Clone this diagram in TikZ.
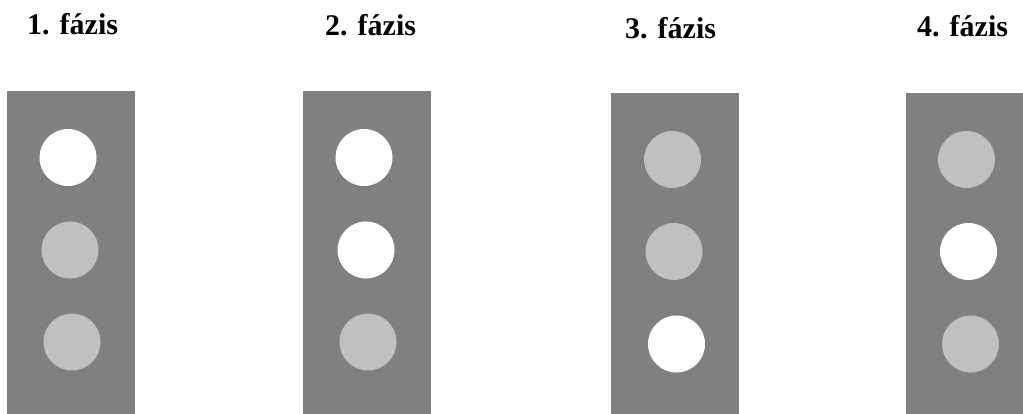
\documentclass[tikz,border=0pt]{standalone}
\usepackage{fontspec}
\setmainfont{Liberation Serif}
\usepackage{tikz}
\usetikzlibrary{positioning}
\definecolor{housinggray}{HTML}{808080}
\definecolor{lampoff}{HTML}{C0C0C0}
\tikzstyle{housing} = [rectangle, fill = housinggray, inner sep = 0,
  minimum width = 128, anchor = north west]
\tikzstyle{phase} = [inner sep = 0, anchor = base west,
  font = \fontsize{30}{30}\selectfont\bfseries]
\tikzstyle{lamp} = [circle, inner sep = 0, minimum size = 57]
\tikzstyle{lampon} = [lamp, fill = white]
\tikzstyle{lampout} = [lamp, fill = lampoff]

\begin{document}
\begin{tikzpicture}[x = 1pt, y = -1pt]
    \useasboundingbox (0, 0) rectangle (1023, 414);
    % 1. fazis
    \node [phase] (label-1) at (27, 35) {1. fázis};
    \node [housing, minimum height = 323] (box-1) at (7, 91) {};
    \node [lampon] (lamp-1-a) at (68, 157.5) {};
    \node [lampout] (lamp-1-b) at (70, 250) {};
    \node [lampout] (lamp-1-c) at (72, 342) {};
    % 2. fazis
    \node [phase] (label-2) at (325, 36) {2. fázis};
    \node [housing, minimum height = 323] (box-2) at (303, 91) {};
    \node [lampon] (lamp-2-a) at (364, 157.5) {};
    \node [lampon] (lamp-2-b) at (366, 250) {};
    \node [lampout] (lamp-2-c) at (368, 342) {};
    % 3. fazis
    \node [phase] (label-3) at (625, 39) {3. fázis};
    \node [housing, minimum height = 321] (box-3) at (611, 93) {};
    \node [lampout] (lamp-3-a) at (672.5, 159.5) {};
    \node [lampout] (lamp-3-b) at (674, 251.5) {};
    \node [lampon] (lamp-3-c) at (676.5, 344) {};
    % 4. fazis
    \node [phase] (label-4) at (917, 37) {4. fázis};
    \node [housing, minimum width = 117, minimum height = 321] (box-4) at (906, 93) {};
    \node [lampout] (lamp-4-a) at (966.5, 159.5) {};
    \node [lampon] (lamp-4-b) at (968.5, 251.5) {};
    \node [lampout] (lamp-4-c) at (970.5, 344) {};
  \end{tikzpicture}
\end{document}
